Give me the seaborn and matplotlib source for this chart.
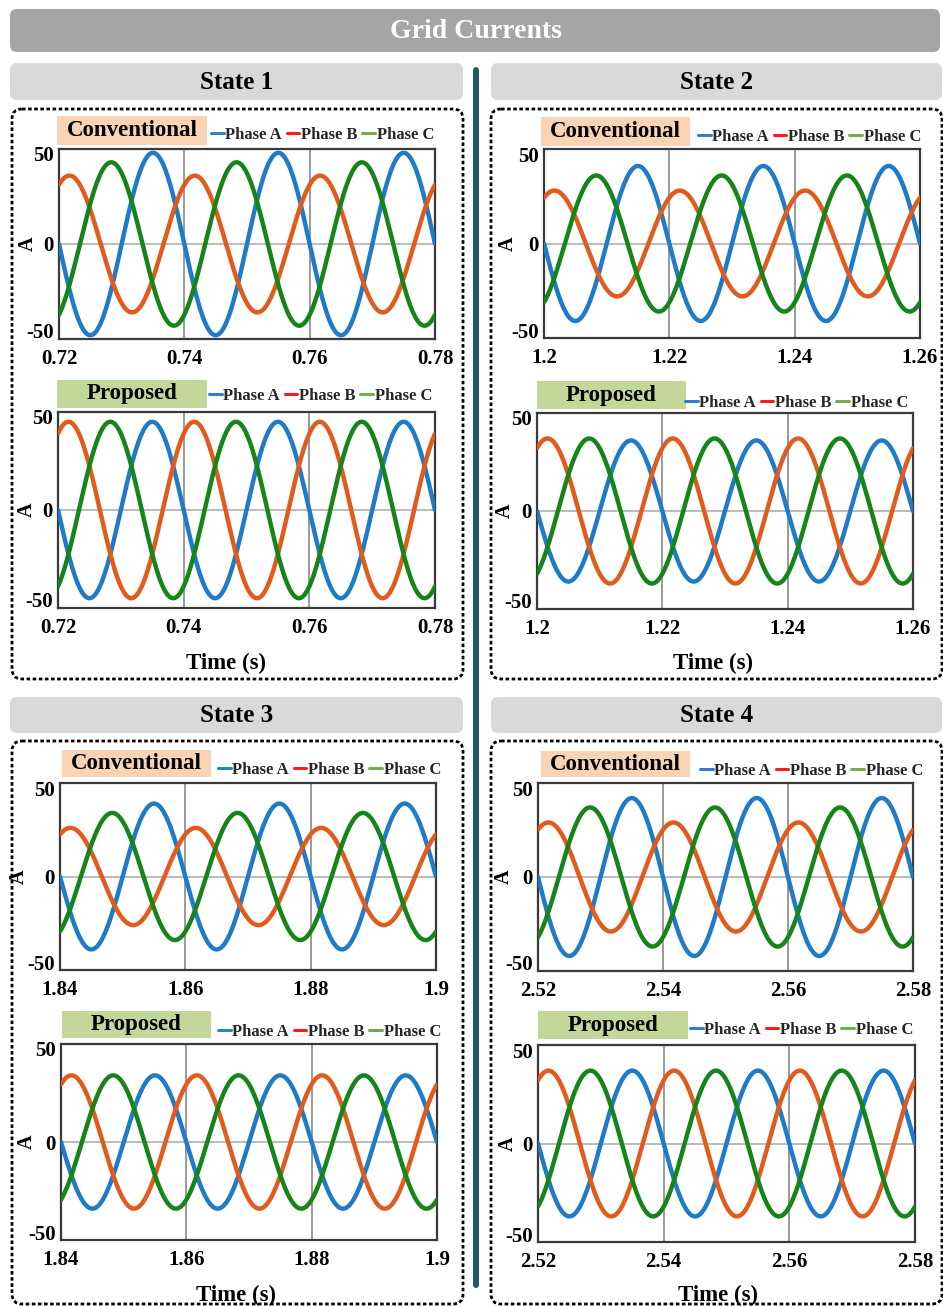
import numpy as np
import pandas as pd
import matplotlib
matplotlib.use("Agg")
import matplotlib.pyplot as plt
import matplotlib.transforms as mtransforms
import seaborn as sns
from matplotlib.patches import FancyBboxPatch
from matplotlib.lines import Line2D

# ------------------------------------------------------------------ data
TITLE = "Grid Currents"
STATE_NAMES = ["State 1", "State 2", "State 3", "State 4"]
CASE_NAMES = ["Conventional", "Proposed"]
PHASES = ["Phase A", "Phase B", "Phase C"]
T_START = [0.72, 1.20, 1.84, 2.52]
T_END = [0.78, 1.26, 1.90, 2.58]
X_TICKS = [[0.72, 0.74, 0.76, 0.78],
           [1.20, 1.22, 1.24, 1.26],
           [1.84, 1.86, 1.88, 1.90],
           [2.52, 2.54, 2.56, 2.58]]
X_TICK_LABELS = [["0.72", "0.74", "0.76", "0.78"],
                 ["1.2", "1.22", "1.24", "1.26"],
                 ["1.84", "1.86", "1.88", "1.9"],
                 ["2.52", "2.54", "2.56", "2.58"]]
Y_TICKS = [-50, 0, 50]
Y_TICK_LABELS = ["-50", "0", "50"]
X_LABEL = "Time (s)"
Y_LABEL = "A"
GRID_FREQ_HZ = 50.0
# phase angle of each phase relative to phase A (degrees)
PHASE_ANGLE_DEG = [0, -120, 120]
# peak currents (A), State 1..4
CONV_PEAK_A = [48, 41, 39, 42]
CONV_PEAK_B = [36, 28, 26, 29]
CONV_PEAK_C = [43, 36, 34, 37]
PROP_PEAK_A = [45, 36, 34, 37]
PROP_PEAK_B = [45, 37, 34, 37]
PROP_PEAK_C = [45, 37, 34, 37]

# ------------------------------------------------------------------ style / layout
W, H = 943, 1307
LINE_COLORS = {"Phase A": "#1f7bc8", "Phase B": "#e15b1d", "Phase C": "#15851a"}
LEGEND_COLORS = ["#2f7fd0", "#ff1a1a", "#79ac4c"]
TAG_COLORS = {"Conventional": "#f9d3b3", "Proposed": "#c4d79b"}

AX_BOX = {(0, 0): (59, 149, 435, 339), (0, 1): (58, 412, 435, 608),
          (1, 0): (544, 149, 920, 338), (1, 1): (537, 413, 913, 609),
          (2, 0): (60, 783, 436, 970), (2, 1): (61, 1044, 437, 1240),
          (3, 0): (538, 783, 913, 971), (3, 1): (538, 1045, 915, 1242)}
TAG_BOX = {(0, 0): (57, 116, 207, 145), (0, 1): (57, 380, 207, 408),
           (1, 0): (541, 117, 690, 146), (1, 1): (537, 381, 686, 409),
           (2, 0): (62, 750, 211, 777), (2, 1): (62, 1011, 211, 1038),
           (3, 0): (541, 751, 690, 777), (3, 1): (538, 1011, 688, 1039)}
LEG_POS = {(0, 0): (211, 135), (0, 1): (209, 396),
           (1, 0): (698, 137), (1, 1): (685, 403),
           (2, 0): (218, 770), (2, 1): (218, 1032),
           (3, 0): (700, 771), (3, 1): (690, 1030)}
YLAB_X = {(0, 0): 28, (0, 1): 27, (1, 0): 508, (1, 1): 505,
          (2, 0): 19, (2, 1): 27, (3, 0): 504, (3, 1): 508}
TIME_POS = {0: (226, 663), 1: (713, 663), 2: (236, 1295), 3: (718, 1295)}
HEAD_BOX = {0: (10, 63, 463, 100), 1: (491, 63, 942, 100),
            2: (10, 697, 463, 733), 3: (491, 697, 942, 733)}
PANEL_BOX = {0: (12, 109, 463, 679), 1: (491, 109, 942, 679),
             2: (12, 741, 463, 1304), 3: (491, 741, 942, 1304)}

sns.set_theme(style="white")
plt.rcParams["font.family"] = ["Liberation Serif", "DejaVu Serif"]
plt.rcParams["font.weight"] = "bold"
plt.rcParams["axes.labelweight"] = "bold"

fig = plt.figure(figsize=(W / 100, H / 100), dpi=100)
fig.patch.set_facecolor("white")
bg = fig.add_axes([0, 0, 1, 1], zorder=0)
bg.set_xlim(0, W)
bg.set_ylim(H, 0)
bg.axis("off")


def rbox(x0, y0, x1, y1, r, **kw):
    p = FancyBboxPatch((x0, y0), x1 - x0, y1 - y0,
                       boxstyle=f"round,pad=0,rounding_size={r}", **kw)
    bg.add_patch(p)
    return p


# title banner
rbox(10, 9, 940, 52, 7, facecolor="#a5a5a5", edgecolor="none")
bg.text(476, 31, TITLE, color="white", fontsize=20, fontweight="bold",
        ha="center", va="center")

# divider
bg.add_line(Line2D([476, 476], [70, 1285], color="#215868", lw=4.3,
                   solid_capstyle="round"))

for s in range(4):
    hx0, hy0, hx1, hy1 = HEAD_BOX[s]
    rbox(hx0, hy0, hx1, hy1, 7, facecolor="#d9d9d9", edgecolor="none")
    bg.text((hx0 + hx1) / 2, (hy0 + hy1) / 2 + 1, STATE_NAMES[s], fontsize=18,
            fontweight="bold", ha="center", va="center", color="black")
    px0, py0, px1, py1 = PANEL_BOX[s]
    rbox(px0, py0, px1, py1, 10, facecolor="none", edgecolor="black",
         lw=2.0, linestyle=(0, (1.3, 0.9)))

peaks = {0: [CONV_PEAK_A, CONV_PEAK_B, CONV_PEAK_C],
         1: [PROP_PEAK_A, PROP_PEAK_B, PROP_PEAK_C]}

leg_handles = [Line2D([], [], color=c, lw=2.2) for c in LEGEND_COLORS]
up_shift = mtransforms.ScaledTranslation(0, 8 / 100, fig.dpi_scale_trans)
down_shift = mtransforms.ScaledTranslation(0, -5 / 100, fig.dpi_scale_trans)

for s in range(4):
    t = np.linspace(T_START[s], T_END[s], 1201)
    for c in range(2):
        frames = []
        for k, ph in enumerate(PHASES):
            amp = peaks[c][k][s]
            ang = np.deg2rad(PHASE_ANGLE_DEG[k])
            i = -amp * np.sin(2 * np.pi * GRID_FREQ_HZ * (t - T_START[s]) + ang)
            frames.append(pd.DataFrame({"Time": t, "Current": i, "Phase": ph}))
        df = pd.concat(frames, ignore_index=True)

        x0, y0, x1, y1 = AX_BOX[(s, c)]
        ax = fig.add_axes([x0 / W, 1 - y1 / H, (x1 - x0) / W, (y1 - y0) / H],
                          zorder=2)
        ax.set_facecolor("white")
        ax.axhline(0, color="#a8a8a8", lw=1.1, zorder=1)
        for xv in X_TICKS[s][1:-1]:
            ax.axvline(xv, color="#7f7f7f", lw=1.1, zorder=1)
        sns.lineplot(data=df, x="Time", y="Current", hue="Phase",
                     palette=LINE_COLORS, estimator=None, errorbar=None,
                     sort=False, legend=False, lw=3.2, ax=ax, zorder=3)
        ax.set_xlim(T_START[s], T_END[s])
        ax.set_ylim(-50, 50)
        ax.tick_params(axis="both", length=0, labelsize=15, labelcolor="black")
        ax.tick_params(axis="x", pad=7.5)
        ax.tick_params(axis="y", pad=4)
        ax.set_xticks(X_TICKS[s])
        ax.set_xticklabels(X_TICK_LABELS[s])
        ax.set_yticks(Y_TICKS)
        ax.set_yticklabels(Y_TICK_LABELS)
        yticks = ax.yaxis.get_major_ticks()
        yticks[0].label1.set_transform(yticks[0].label1.get_transform() + up_shift)
        yticks[2].label1.set_transform(yticks[2].label1.get_transform() + down_shift)
        for sp in ax.spines.values():
            sp.set_color("#3a3a3a")
            sp.set_linewidth(1.6)
            sp.set_visible(True)

        ax.set_ylabel(Y_LABEL, fontsize=14.5, fontweight="bold", color="black")
        ax.yaxis.set_label_coords(YLAB_X[(s, c)], (y0 + y1) / 2, transform=bg.transData)
        ax.yaxis.label.set_va("center")
        if c == 1:
            ax.set_xlabel(X_LABEL, fontsize=16.5, fontweight="bold", color="black")
            tx, ty = TIME_POS[s]
            ax.xaxis.set_label_coords(tx, ty, transform=bg.transData)
            ax.xaxis.label.set_va("center")
        else:
            ax.set_xlabel("")

        # tag box
        gx0, gy0, gx1, gy1 = TAG_BOX[(s, c)]
        bg.add_patch(FancyBboxPatch((gx0, gy0), gx1 - gx0, gy1 - gy0,
                                    boxstyle="square,pad=0",
                                    facecolor=TAG_COLORS[CASE_NAMES[c]],
                                    edgecolor="none"))
        bg.text((gx0 + gx1) / 2, (gy0 + gy1) / 2, CASE_NAMES[c], fontsize=16.5,
                fontweight="bold", ha="center", va="center", color="black")

        lx, ly = LEG_POS[(s, c)]
        ax.legend(leg_handles, PHASES, loc="center left",
                  bbox_to_anchor=(lx / W, 1 - ly / H),
                  bbox_transform=fig.transFigure, ncol=3, frameon=False,
                  handlelength=0.75, handletextpad=0.1,
                  columnspacing=0.3, borderpad=0, borderaxespad=0,
                  prop={"weight": "bold", "size": 12})

fig.savefig("out.png", dpi=100, facecolor="white")
